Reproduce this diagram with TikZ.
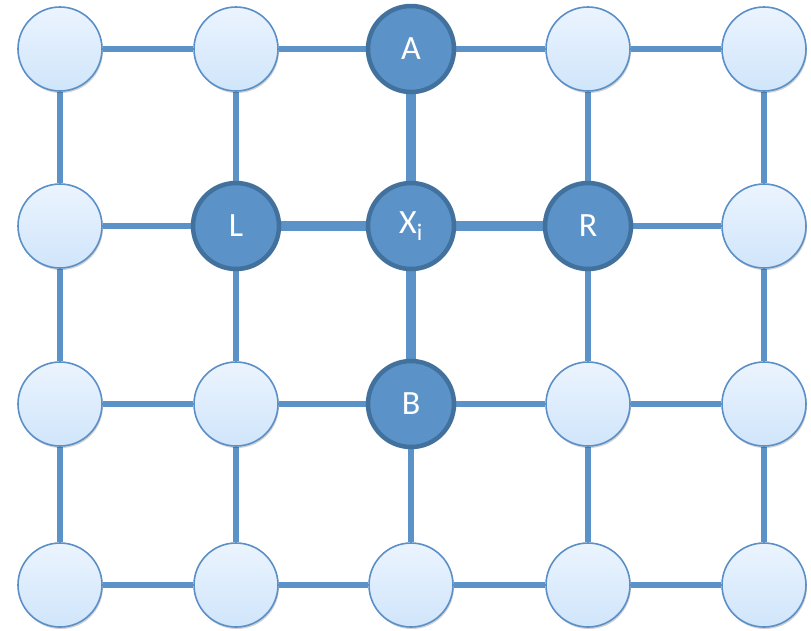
\documentclass[tikz,border=0pt]{standalone}
\usepackage{fontspec}
\setmainfont{Carlito}
\usetikzlibrary{shadows}
\definecolor{edgeblue}{HTML}{5B93C8}
\definecolor{ringblue}{HTML}{41719C}
\definecolor{lightborder}{HTML}{5B8FC7}
\definecolor{topfill}{HTML}{EBF4FE}
\definecolor{botfill}{HTML}{D0E5FB}
\tikzset{
  gridnode/.style={circle, minimum size=84pt, inner sep=0pt, draw=lightborder, line width=1.6pt,
    top color=topfill, bottom color=botfill,
    drop shadow={shadow xshift=1pt, shadow yshift=-2pt, opacity=0.18, fill=black}},
  keynode/.style={circle, minimum size=86pt, inner sep=0pt, draw=ringblue, line width=4.5pt,
    fill=edgeblue, text=white, font=\fontsize{34}{36}\selectfont,
    drop shadow={shadow xshift=1pt, shadow yshift=-2pt, opacity=0.18, fill=black}},
  link/.style={draw=edgeblue, line width=5.5pt},
  strong/.style={draw=edgeblue, line width=9.5pt}
}
\pgfdeclarelayer{back}
\pgfsetlayers{back,main}
\begin{document}
\begin{tikzpicture}[x=1pt, y=-1pt]
\useasboundingbox (0,0) rectangle (811,630);
% grid positions
\foreach \c/\x in {1/60,2/236,3/411,4/588,5/764}{
  \foreach \r/\y in {1/49,2/226,3/404,4/585}{
    \coordinate (p\c\r) at (\x,\y);
  }
}
% nodes
\node[gridnode] (n11) at (p11) {};
\node[gridnode] (n21) at (p21) {};
\node[keynode]  (A)   at (p31) {A};
\node[gridnode] (n41) at (p41) {};
\node[gridnode] (n51) at (p51) {};
\node[gridnode] (n12) at (p12) {};
\node[keynode]  (L)   at (p22) {L};
\node[keynode]  (X)   at (p32) {X\textsubscript{i}};
\node[keynode]  (R)   at (p42) {R};
\node[gridnode] (n52) at (p52) {};
\node[gridnode] (n13) at (p13) {};
\node[gridnode] (n23) at (p23) {};
\node[keynode]  (B)   at (p33) {B};
\node[gridnode] (n43) at (p43) {};
\node[gridnode] (n53) at (p53) {};
\node[gridnode] (n14) at (p14) {};
\node[gridnode] (n24) at (p24) {};
\node[gridnode] (n34) at (p34) {};
\node[gridnode] (n44) at (p44) {};
\node[gridnode] (n54) at (p54) {};
% connectors, drawn behind the nodes
\begin{pgfonlayer}{back}
% horizontal links
\path[link] (n11) -- (n21) (n21) -- (A) (A) -- (n41) (n41) -- (n51);
\path[link] (n12) -- (L) (R) -- (n52);
\path[strong] (L) -- (X) (X) -- (R);
\path[link] (n13) -- (n23) (n23) -- (B) (B) -- (n43) (n43) -- (n53);
\path[link] (n14) -- (n24) (n24) -- (n34) (n34) -- (n44) (n44) -- (n54);
% vertical links
\path[link] (n11) -- (n12) (n12) -- (n13) (n13) -- (n14);
\path[link] (n21) -- (L) (L) -- (n23) (n23) -- (n24);
\path[strong] (A) -- (X) (X) -- (B);
\path[link] (B) -- (n34);
\path[link] (n41) -- (R) (R) -- (n43) (n43) -- (n44);
\path[link] (n51) -- (n52) (n52) -- (n53) (n53) -- (n54);
\end{pgfonlayer}
\end{tikzpicture}
\end{document}
